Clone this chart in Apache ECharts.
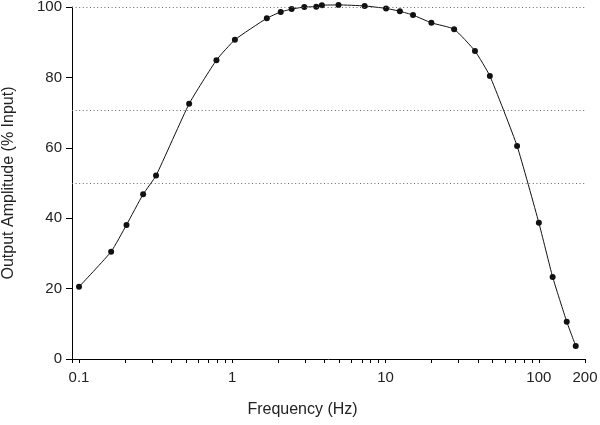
<!DOCTYPE html>
<html>
<head>
<meta charset="utf-8">
<script src="https://cdn.jsdelivr.net/npm/echarts@6/dist/echarts.min.js"></script>
<style>
  html, body { margin: 0; padding: 0; background: #fff; }
  #chart { width: 600px; height: 425px; }
</style>
</head>
<body>
<div id="chart"></div>
<script>
// frequency (Hz) and output amplitude (% of input)
var freqs = [0.1, 0.162, 0.204, 0.262, 0.318, 0.523, 0.788, 1.04, 1.68, 2.07, 2.44, 2.95,
  3.53, 3.84, 4.93, 7.3, 10.07, 12.4, 15.1, 19.9, 28.0, 38.3, 47.9, 72.1, 100, 123, 152, 174]
var amplitude = [20.5, 30.5, 38.1, 46.8, 52.1, 72.5, 84.9, 90.7, 96.8, 98.6, 99.4, 100.0,
  100.1, 100.5, 100.6, 100.3, 99.6, 98.8, 97.7, 95.5, 93.7, 87.5, 80.4, 60.5, 38.7, 23.3, 10.6, 3.7]
var refLevels = [100, 70.7, 50]
var xLabels = [0.1, 1, 10, 100, 200]
var xTicks = [0.09, 0.1, 0.2, 0.3, 0.4, 0.5, 0.6, 0.7, 0.8, 0.9,
  1, 2, 3, 4, 5, 6, 7, 8, 9, 10, 20, 30, 40, 50, 60, 70, 80, 90, 100, 200]
var xMin = 0.09, xMax = 200

// x axis is drawn on log10(frequency)
var lg = function (v) { return Math.log10(v) }
var points = freqs.map(function (f, i) { return [lg(f), amplitude[i]] })

var font = 'Liberation Sans, Arial, sans-serif'
var myChart = echarts.init(document.getElementById('chart'), null, { renderer: 'canvas' })
myChart.setOption({
  animation: false,
  grid: { left: 72, right: 15, top: 7, bottom: 66, containLabel: false, outerBoundsMode: 'none' },
  xAxis: {
    type: 'value',
    min: lg(xMin),
    max: lg(xMax),
    name: 'Frequency (Hz)',
    nameLocation: 'middle',
    nameGap: 43,
    nameTextStyle: { fontFamily: font, fontSize: 16, color: '#222', padding: [0, 52, 0, 0] },
    splitLine: { show: false },
    axisLine: { onZero: false, lineStyle: { color: '#000', width: 1 } },
    axisTick: { show: true, length: 4, customValues: xTicks.map(lg), lineStyle: { color: '#000' } },
    axisLabel: {
      customValues: xLabels.map(lg),
      margin: 11,
      fontFamily: font, fontSize: 15, color: '#222',
      formatter: function (v) {
        var f = Math.pow(10, v)
        return f < 1 ? String(Math.round(f * 10) / 10) : String(Math.round(f))
      }
    }
  },
  yAxis: {
    type: 'value',
    min: 0,
    max: 100,
    interval: 20,
    name: 'Output Amplitude (% Input)',
    nameLocation: 'middle',
    nameGap: 55,
    nameTextStyle: { fontFamily: font, fontSize: 16, color: '#222' },
    splitLine: { show: false },
    axisLine: { show: true, onZero: false, lineStyle: { color: '#000', width: 1 } },
    axisTick: { show: true, length: 6, lineStyle: { color: '#000' } },
    axisLabel: { margin: 10, fontFamily: font, fontSize: 15, color: '#222' }
  },
  series: [
    {
      type: 'line',
      data: points,
      clip: false,
      smooth: 0.15,
      symbol: 'circle',
      symbolSize: 6,
      itemStyle: { color: '#111' },
      lineStyle: { color: '#111', width: 1 },
      markLine: {
        silent: true,
        symbol: 'none',
        label: { show: false },
        lineStyle: { color: '#666', width: 1, type: [1, 2.6] },
        data: refLevels.map(function (v) { return { yAxis: v } })
      }
    }
  ]
})
</script>
</body>
</html>
